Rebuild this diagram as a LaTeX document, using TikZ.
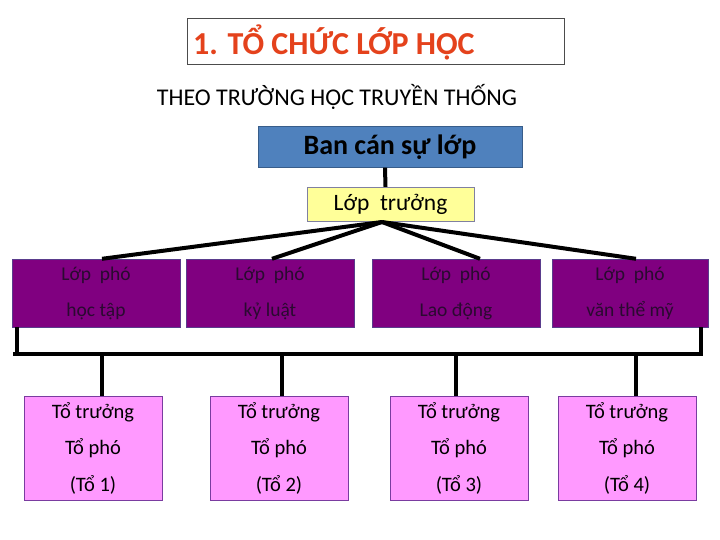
\documentclass[tikz,border=0pt]{standalone}
\usepackage{fontspec}
\setmainfont{Carlito}
\usepackage{tikz}
\definecolor{titlered}{HTML}{E4421C}
\definecolor{banblue}{HTML}{4F81BD}
\definecolor{banedge}{HTML}{385D8A}
\definecolor{leadyellow}{HTML}{FFFF99}
\definecolor{leadedge}{HTML}{8080A0}
\definecolor{vicepurple}{HTML}{800080}
\definecolor{viceedge}{HTML}{5A3C8C}
\definecolor{vicetext}{HTML}{2A0A30}
\definecolor{grouppink}{HTML}{FF99FF}
\definecolor{groupedge}{HTML}{7A3CA0}

\begin{document}
\begin{tikzpicture}[x=1pt,y=-1pt,
  link/.style={line width=4pt},
  vicebox/.style={draw=viceedge, fill=vicepurple, text=vicetext, minimum width=168pt,
    minimum height=68pt, align=center, inner sep=0pt, font=\fontsize{19.5}{36}\selectfont},
  groupbox/.style={draw=groupedge, fill=grouppink, minimum width=138pt,
    minimum height=104pt, align=center, inner sep=0pt, font=\fontsize{20.5}{36.5}\selectfont}]
  \useasboundingbox (0,0) rectangle (720,540);
  % title
  \node[draw=black!70, thick, minimum width=377pt, minimum height=46pt] (title) at (375.5,41) {};
  \node[anchor=west, inner sep=0pt, text=titlered,
    font=\fontsize{32}{34}\bfseries\selectfont] (titletext) at (193,42) {1. TỔ CHỨC LỚP HỌC};
  \node[font=\fontsize{24}{28}\selectfont] (sub) at (337,97) {THEO TRƯỜNG HỌC TRUYỀN THỐNG};
  % top of the chart
  \node[draw=banedge, fill=banblue, minimum width=264pt, minimum height=41pt,
    font=\fontsize{28}{32}\bfseries\selectfont] (ban) at (390,147) {Ban cán sự lớp};
  \node[draw=leadedge, fill=leadyellow, minimum width=167pt, minimum height=34pt,
    font=\fontsize{23.5}{26}\selectfont] (lead) at (390.5,204) {Lớp\ \ trưởng};
  \draw[link] ([xshift=-5pt]ban.south) -- ([xshift=-5pt]lead.north);
  % vice monitors
  \node[vicebox] (v1) at (96,293) {Lớp\ \ phó\\học tập};
  \node[vicebox] (v2) at (270,293) {Lớp\ \ phó\\kỷ luật};
  \node[vicebox] (v3) at (456,293) {Lớp\ \ phó\\Lao động};
  \node[vicebox, minimum width=156pt] (v4) at (630,293) {Lớp\ \ phó\\văn thể mỹ};
  \coordinate (apex) at (382,222);
  \foreach \i/\dx in {1/6,2/2,3/24,4/6} {
    \draw[link] (apex) -- ([xshift=\dx pt]v\i.north);
  }
  % bracket
  \coordinate (barL) at (13,354);
  \coordinate (barR) at (703,354);
  \draw[link] ([xshift=5pt]v1.south west) -- ([xshift=5pt]v1.south west |- barL);
  \draw[link] ([xshift=-7pt]v4.south east) -- ([xshift=-7pt]v4.south east |- barR);
  \draw[link] (barL) -- (barR);
  % groups
  \node[groupbox] (g1) at (93,448) {Tổ trưởng\\Tổ phó\\(Tổ 1)};
  \node[groupbox] (g2) at (279,448) {Tổ trưởng\\Tổ phó\\(Tổ 2)};
  \node[groupbox] (g3) at (459,448) {Tổ trưởng\\Tổ phó\\(Tổ 3)};
  \node[groupbox] (g4) at (627,448) {Tổ trưởng\\Tổ phó\\(Tổ 4)};
  \foreach \i/\dx in {1/9,2/3,3/-3,4/9} {
    \draw[link] ([xshift=\dx pt]g\i.north) -- ([xshift=\dx pt]g\i.north |- barL);
  }
\end{tikzpicture}
\end{document}
